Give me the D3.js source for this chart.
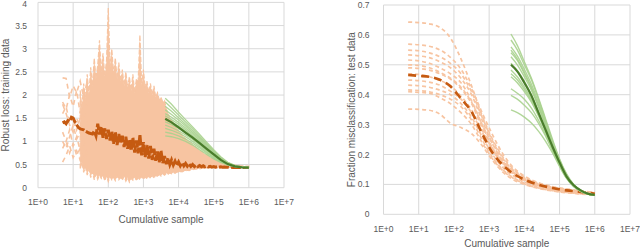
<!DOCTYPE html>
<html><head><meta charset="utf-8">
<script src="https://cdn.jsdelivr.net/npm/d3@7"></script>
<style>
html,body{margin:0;padding:0;background:#fff;}
svg{display:block;font-family:"Liberation Sans",Arial,sans-serif;}
</style></head>
<body><svg id="c" width="640" height="250"></svg>
<script>
// ---------- shared axis data ----------
const decadeTicks = [1, 10, 100, 1000, 10000, 100000, 1000000, 10000000];
const decadeLabels = ["1E+0","1E+1","1E+2","1E+3","1E+4","1E+5","1E+6","1E+7"];
const lossTicks = [0, 0.5, 1, 1.5, 2, 2.5, 3, 3.5, 4];
const lossTickLabels = ["0","0.5","1","1.5","2","2.5","3","3.5","4"];
const errTicks = [0, 0.1, 0.2, 0.3, 0.4, 0.5, 0.6, 0.7];
const errTickLabels = ["0","0.1","0.2","0.3","0.4","0.5","0.6","0.7"];

// ---------- LEFT: robust loss on training data (x = log10 cumulative sample) ----------
const trainBandLog = [1.20,1.25,1.30,1.35,1.40,1.45,1.50,1.55,1.60,1.65,1.70,1.75,1.80,1.85,1.90,1.95,2.00,2.05,2.10,2.15,2.20,2.25,2.30,2.35,2.40,2.45,2.50,2.55,2.60,2.65,2.70,2.75,2.80,2.85,2.90,2.95,3.00,3.05,3.10,3.15,3.20,3.25,3.30,3.35,3.40,3.45,3.50,3.55,3.60,3.65,3.70,3.75,3.80,3.85,3.90,3.95,4.00,4.05,4.10,4.15,4.20,4.25,4.30,4.35,4.40,4.45,4.50,4.55,4.60,4.65,4.70,4.75,4.80,4.85,4.90,4.95,5.00,5.05,5.10,5.15,5.20,5.25,5.30,5.35,5.40,5.45,5.50,5.55,5.60,5.65,5.70,5.75,5.80,5.85,5.90,5.95,6.00];
const trainBandHigh = [2.10,1.70,2.25,1.90,2.45,2.00,2.60,2.20,2.80,2.35,2.65,3.18,2.50,2.90,2.40,2.75,3.88,2.60,3.00,2.45,2.80,2.35,2.70,2.30,2.55,2.20,2.50,2.15,2.40,2.10,2.45,2.05,2.35,2.30,3.30,2.20,2.55,2.15,2.30,2.05,2.25,2.00,2.20,1.95,2.05,1.90,1.95,1.85,1.88,1.70,1.62,1.50,1.45,1.38,1.33,1.27,1.23,1.18,1.14,1.10,1.06,1.02,0.99,0.96,0.93,0.90,0.87,0.84,0.81,0.78,0.75,0.73,0.71,0.68,0.66,0.64,0.62,0.60,0.585,0.57,0.555,0.545,0.535,0.525,0.515,0.507,0.50,0.495,0.49,0.485,0.48,0.477,0.474,0.471,0.469,0.467,0.465];
const trainBandLow = [0.40,0.55,0.33,0.45,0.27,0.40,0.22,0.35,0.17,0.30,0.18,0.28,0.20,0.26,0.15,0.25,0.13,0.24,0.17,0.22,0.15,0.26,0.17,0.22,0.16,0.25,0.14,0.22,0.12,0.20,0.16,0.24,0.15,0.22,0.17,0.25,0.18,0.24,0.19,0.26,0.20,0.27,0.20,0.28,0.23,0.29,0.25,0.30,0.27,0.31,0.29,0.32,0.30,0.33,0.31,0.34,0.33,0.35,0.34,0.36,0.36,0.38,0.37,0.39,0.385,0.40,0.40,0.41,0.405,0.415,0.415,0.42,0.42,0.425,0.425,0.428,0.43,0.43,0.432,0.433,0.435,0.435,0.436,0.437,0.438,0.438,0.44,0.44,0.44,0.44,0.44,0.44,0.44,0.44,0.44,0.44,0.44];

const trainEarlyLog = [0.7, 0.8, 0.9, 1.0, 1.1, 1.2, 1.3, 1.4];
const trainEarlyRuns = [
  [2.37, 2.36, 1.95, 2.20, 2.05, 2.30, 1.95, 2.30],
  [1.85, 1.70, 2.00, 1.75, 2.10, 1.60, 2.00, 1.70],
  [1.80, 1.60, 1.35, 1.20, 1.50, 1.30, 1.65, 1.40],
  [1.60, 1.75, 1.40, 1.55, 1.25, 1.50, 1.10, 1.35],
  [1.20, 1.00, 1.25, 0.90, 1.10, 0.80, 1.00, 0.70],
  [0.85, 1.00, 0.75, 0.95, 0.70, 0.85, 0.60, 0.75],
  [0.55, 0.70, 0.90, 0.65, 0.80, 0.60, 0.50, 0.45],
  [1.00, 0.85, 1.10, 1.35, 1.05, 1.20, 0.95, 1.10]
];

const trainMeanLog = [0.70,0.75,0.80,0.85,0.90,0.95,1.00,1.05,1.10,1.15,1.20,1.25,1.30,1.35,1.40,1.45,1.50,1.55,1.60,1.65,1.70,1.75,1.80,1.85,1.90,1.95,2.00,2.05,2.10,2.15,2.20,2.25,2.30,2.35,2.40,2.45,2.50,2.55,2.60,2.65,2.70,2.75,2.80,2.85,2.90,2.95,3.00,3.05,3.10,3.15,3.20,3.25,3.30,3.35,3.40,3.45,3.50,3.55,3.60,3.65,3.70,3.75,3.80,3.85,3.90,3.95,4.00,4.05,4.10,4.15,4.20,4.25,4.30,4.35,4.40,4.45,4.50,4.55,4.60,4.65,4.70,4.75,4.80,4.85,4.90,4.95,5.00,5.05,5.10,5.15,5.20,5.25,5.30,5.35,5.40,5.45,5.50,5.55,5.60,5.65,5.70,5.75,5.80,5.85,5.90,5.95,6.00];
const trainMean = [1.40,1.42,1.38,1.45,1.43,1.52,1.50,1.42,1.36,1.30,1.27,1.26,1.25,1.22,1.20,1.18,1.17,1.16,1.22,1.12,1.38,1.15,1.32,1.08,1.28,1.05,1.25,1.02,1.22,0.95,1.20,0.92,1.16,0.98,1.12,0.88,1.10,0.84,1.05,0.80,1.08,0.76,1.02,0.74,1.15,0.70,0.98,0.66,0.92,0.63,0.90,0.60,0.84,0.58,0.78,0.55,0.80,0.53,0.68,0.51,0.64,0.50,0.60,0.49,0.57,0.48,0.555,0.475,0.54,0.47,0.525,0.465,0.51,0.46,0.50,0.457,0.49,0.455,0.48,0.452,0.472,0.45,0.465,0.447,0.46,0.445,0.455,0.443,0.452,0.442,0.449,0.441,0.447,0.44,0.445,0.439,0.443,0.438,0.442,0.437,0.44,0.437,0.439,0.436,0.438,0.436,0.437];

const greenLog = [3.62, 3.8, 4.0, 4.2, 4.4, 4.6, 4.8, 5.0, 5.2, 5.4, 5.6, 5.8, 6.0];
const trainGreenRuns = [
  [1.93,1.80,1.63,1.47,1.31,1.15,0.98,0.82,0.67,0.55,0.48,0.45,0.44],
  [1.85,1.72,1.57,1.42,1.27,1.11,0.95,0.79,0.65,0.54,0.475,0.448,0.44],
  [1.76,1.65,1.51,1.37,1.23,1.08,0.93,0.78,0.64,0.535,0.472,0.446,0.438],
  [1.68,1.58,1.46,1.33,1.19,1.05,0.90,0.76,0.63,0.53,0.47,0.445,0.438],
  [1.60,1.52,1.41,1.29,1.16,1.02,0.88,0.74,0.62,0.525,0.468,0.444,0.437],
  [1.55,1.47,1.37,1.25,1.12,0.99,0.85,0.72,0.60,0.515,0.465,0.443,0.437],
  [1.47,1.42,1.33,1.22,1.10,0.97,0.84,0.71,0.595,0.51,0.463,0.442,0.436],
  [1.42,1.36,1.28,1.18,1.07,0.95,0.82,0.70,0.59,0.51,0.462,0.442,0.436],
  [1.35,1.30,1.23,1.14,1.04,0.92,0.80,0.68,0.58,0.505,0.46,0.441,0.436],
  [1.28,1.24,1.18,1.10,1.00,0.89,0.77,0.66,0.565,0.50,0.458,0.44,0.435],
  [1.20,1.17,1.12,1.05,0.96,0.86,0.75,0.64,0.555,0.495,0.455,0.44,0.435],
  [1.12,1.10,1.06,1.00,0.92,0.82,0.72,0.62,0.545,0.49,0.453,0.439,0.435]
];
const trainGreenMean = [1.49,1.41,1.30,1.19,1.08,0.96,0.84,0.72,0.60,0.51,0.46,0.44,0.435];

// ---------- RIGHT: fraction misclassification on test data ----------
const testLog = [0.7, 1.0, 1.3, 1.6, 1.9, 2.2, 2.5, 2.8, 3.1, 3.4, 3.7, 4.0, 4.4, 4.8, 5.2, 5.6, 6.0];
const testRuns = [
  [0.643,0.641,0.637,0.625,0.59,0.52,0.43,0.33,0.25,0.19,0.15,0.125,0.104,0.091,0.083,0.077,0.072],
  [0.569,0.567,0.562,0.55,0.525,0.485,0.42,0.34,0.265,0.20,0.155,0.128,0.106,0.093,0.085,0.078,0.073],
  [0.549,0.547,0.54,0.527,0.505,0.47,0.41,0.325,0.245,0.185,0.145,0.12,0.10,0.088,0.08,0.074,0.07],
  [0.533,0.53,0.524,0.51,0.49,0.455,0.40,0.315,0.235,0.175,0.14,0.117,0.098,0.087,0.079,0.074,0.07],
  [0.516,0.513,0.505,0.49,0.47,0.44,0.38,0.30,0.22,0.168,0.135,0.114,0.096,0.085,0.078,0.073,0.069],
  [0.50,0.498,0.49,0.475,0.455,0.425,0.375,0.30,0.235,0.18,0.145,0.122,0.102,0.09,0.082,0.076,0.072],
  [0.49,0.488,0.482,0.47,0.452,0.42,0.37,0.29,0.215,0.165,0.132,0.112,0.095,0.084,0.077,0.072,0.068],
  [0.47,0.468,0.46,0.448,0.43,0.395,0.35,0.28,0.22,0.175,0.14,0.12,0.10,0.089,0.081,0.075,0.071],
  [0.449,0.447,0.442,0.432,0.412,0.385,0.34,0.275,0.215,0.17,0.138,0.116,0.098,0.087,0.079,0.074,0.07],
  [0.432,0.43,0.425,0.415,0.40,0.37,0.325,0.26,0.20,0.155,0.128,0.108,0.093,0.082,0.075,0.07,0.067],
  [0.416,0.414,0.41,0.40,0.385,0.36,0.315,0.25,0.19,0.148,0.122,0.104,0.09,0.08,0.074,0.069,0.066],
  [0.41,0.408,0.405,0.39,0.37,0.34,0.30,0.24,0.185,0.145,0.12,0.102,0.088,0.079,0.073,0.069,0.066],
  [0.352,0.351,0.348,0.335,0.305,0.29,0.27,0.23,0.18,0.14,0.115,0.10,0.087,0.078,0.072,0.068,0.065]
];
const testMean = [0.466,0.463,0.460,0.450,0.428,0.387,0.343,0.270,0.205,0.163,0.135,0.116,0.099,0.088,0.080,0.075,0.069];
const testGreenRuns = [
  [0.603,0.565,0.51,0.455,0.39,0.32,0.25,0.185,0.135,0.10,0.081,0.07,0.065],
  [0.583,0.55,0.50,0.45,0.385,0.315,0.245,0.182,0.132,0.099,0.08,0.069,0.064],
  [0.56,0.53,0.485,0.435,0.375,0.31,0.24,0.18,0.13,0.098,0.08,0.069,0.064],
  [0.549,0.52,0.475,0.425,0.365,0.30,0.235,0.175,0.128,0.097,0.079,0.069,0.064],
  [0.54,0.515,0.47,0.422,0.362,0.298,0.232,0.174,0.128,0.097,0.079,0.069,0.064],
  [0.527,0.50,0.46,0.415,0.36,0.298,0.235,0.178,0.13,0.098,0.08,0.069,0.064],
  [0.505,0.48,0.445,0.40,0.345,0.285,0.225,0.17,0.125,0.095,0.078,0.068,0.064],
  [0.483,0.46,0.425,0.385,0.335,0.28,0.222,0.168,0.124,0.095,0.078,0.068,0.064],
  [0.47,0.45,0.418,0.38,0.332,0.28,0.225,0.17,0.126,0.096,0.079,0.069,0.065],
  [0.46,0.44,0.41,0.375,0.33,0.278,0.222,0.168,0.124,0.095,0.078,0.068,0.064],
  [0.42,0.405,0.385,0.355,0.315,0.268,0.215,0.165,0.122,0.094,0.077,0.068,0.064],
  [0.398,0.385,0.365,0.34,0.305,0.262,0.212,0.163,0.121,0.093,0.077,0.068,0.064],
  [0.349,0.34,0.325,0.305,0.278,0.245,0.205,0.16,0.12,0.093,0.077,0.068,0.064]
];
const testGreenMean = [0.50,0.478,0.44,0.397,0.34,0.283,0.226,0.173,0.126,0.097,0.08,0.069,0.065];

// ---------- drawing ----------
const svg = d3.select("#c");
const C = {grid:"#d9d9d9", text:"#595959", lightOrange:"#f7c4a1", darkOrange:"#c55a11", lightGreen:"#a9d18e", darkGreen:"#4a7d2b"};
const pow = e => Math.pow(10, e);

function frame(g, x, y, yTicks, yLabels, yTitle, opts) {
  g.selectAll(".vg").data(decadeTicks).join("line")
    .attr("x1", d => x(d)).attr("x2", d => x(d))
    .attr("y1", y.range()[0]).attr("y2", y.range()[1])
    .attr("stroke", C.grid).attr("stroke-width", 1);
  g.selectAll(".hg").data(yTicks).join("line")
    .attr("x1", x.range()[0]).attr("x2", x.range()[1])
    .attr("y1", d => y(d)).attr("y2", d => y(d))
    .attr("stroke", C.grid).attr("stroke-width", 1);
  g.selectAll(".xl").data(decadeTicks).join("text")
    .attr("x", (d) => x(d)).attr("y", y.range()[0] + opts.xLabOff)
    .attr("text-anchor", "middle").attr("font-size", 8.5).attr("fill", C.text)
    .text((d, i) => decadeLabels[i]);
  g.selectAll(".yl").data(yTicks).join("text")
    .attr("x", x.range()[0] - opts.yLabOff).attr("y", d => Math.max(y(d) + 3, 7))
    .attr("text-anchor", "end").attr("font-size", 8.5).attr("fill", C.text)
    .text((d, i) => yLabels[i]);
  g.append("text").attr("x", (x.range()[0] + x.range()[1]) / 2 + opts.xTitleDx)
    .attr("y", y.range()[0] + opts.xTitleOff)
    .attr("text-anchor", "middle").attr("font-size", 10).attr("fill", C.text)
    .text("Cumulative sample");
  g.append("text")
    .attr("transform", `translate(${opts.yTitleX},${(y.range()[0] + y.range()[1]) / 2}) rotate(-90)`)
    .attr("text-anchor", "middle").attr("font-size", 10).attr("fill", C.text)
    .text(yTitle);
}

// LEFT panel
const xL = d3.scaleLog().domain([1, 1e7]).range([38, 284]);
const yL = d3.scaleLinear().domain([0, 4]).range([187.7, 2.4]);
const gL = svg.append("g");
frame(gL, xL, yL, lossTicks, lossTickLabels, "Robust loss: training data",
  {xLabOff: 17, yLabOff: 11, xTitleDx: 0, xTitleOff: 35, yTitleX: 8.5});

const lineL = xs => d3.line().x((d, i) => xL(pow(xs[i]))).y(d => yL(d));
gL.append("path").datum(trainBandHigh)
  .attr("d", d3.area().x((d, i) => xL(pow(trainBandLog[i]))).y0((d, i) => yL(trainBandLow[i])).y1(d => yL(d)))
  .attr("fill", C.lightOrange).attr("stroke", C.lightOrange).attr("stroke-width", 1.2)
  .attr("stroke-dasharray", "5,2");
gL.selectAll(".early").data(trainEarlyRuns).join("path")
  .attr("d", d => lineL(trainEarlyLog)(d))
  .attr("fill", "none").attr("stroke", C.lightOrange).attr("stroke-width", 1.6)
  .attr("stroke-dasharray", "5,4");
gL.append("path").datum(trainMean).attr("d", lineL(trainMeanLog))
  .attr("fill", "none").attr("stroke", C.darkOrange).attr("stroke-width", 3)
  .attr("stroke-dasharray", "10,2");
gL.selectAll(".gr").data(trainGreenRuns).join("path")
  .attr("d", d => lineL(greenLog)(d))
  .attr("fill", "none").attr("stroke", C.lightGreen).attr("stroke-width", 1.3).attr("opacity", 0.9);
gL.append("path").datum(trainGreenMean).attr("d", lineL(greenLog))
  .attr("fill", "none").attr("stroke", C.darkGreen).attr("stroke-width", 2.2);

// RIGHT panel
const xR = d3.scaleLog().domain([1, 1e7]).range([383.5, 630]);
const yR = d3.scaleLinear().domain([0, 0.7]).range([214.3, 5]);
const gR = svg.append("g");
frame(gR, xR, yR, errTicks, errTickLabels, "Fraction misclassification: test data",
  {xLabOff: 17.5, yLabOff: 14, xTitleDx: 0, xTitleOff: 33, yTitleX: 355});

const lineR = xs => d3.line().curve(d3.curveMonotoneX).x((d, i) => xR(pow(xs[i]))).y(d => yR(d));
gR.selectAll(".or").data(testRuns).join("path")
  .attr("d", d => lineR(testLog)(d))
  .attr("fill", "none").attr("stroke", C.lightOrange).attr("stroke-width", 1.7)
  .attr("stroke-dasharray", "4,3");
gR.append("path").datum(testMean).attr("d", lineR(testLog))
  .attr("fill", "none").attr("stroke", C.darkOrange).attr("stroke-width", 2.6)
  .attr("stroke-dasharray", "8,5");
gR.selectAll(".gr").data(testGreenRuns).join("path")
  .attr("d", d => lineR(greenLog)(d))
  .attr("fill", "none").attr("stroke", C.lightGreen).attr("stroke-width", 1.4).attr("opacity", 0.9);
gR.append("path").datum(testGreenMean).attr("d", lineR(greenLog))
  .attr("fill", "none").attr("stroke", C.darkGreen).attr("stroke-width", 2.2);
</script>
</body></html>
